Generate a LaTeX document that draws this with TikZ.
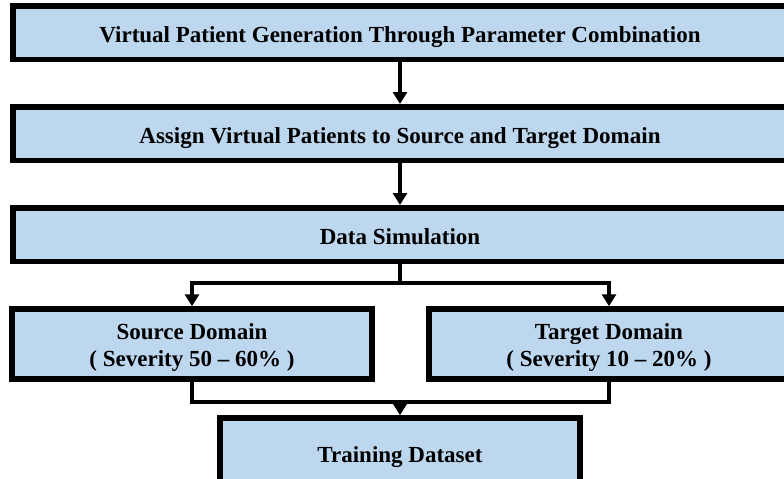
\documentclass[tikz,border=0pt]{standalone}
\usepackage{fontspec}
\setmainfont{Liberation Serif}
\usetikzlibrary{arrows.meta}
\definecolor{boxblue}{RGB}{189,215,238}
\begin{document}
\begin{tikzpicture}[x=0.5pt,y=-0.5pt,every node/.style={font=\fontsize{11.5}{13.5}\selectfont\bfseries,align=center},
  stepbox/.style={draw,fill=boxblue,line width=2.75pt,inner sep=0pt,text height=9.5pt,text depth=0pt},
  widebox/.style={stepbox,minimum width=387pt,minimum height=26.75pt},
  halfbox/.style={stepbox,minimum width=180pt,minimum height=35pt},
  domainbox/.style={halfbox,text height=22.5pt},
  conn/.style={line width=1.75pt},
  arr/.style={conn,-{Triangle[length=6pt,width=7pt]}}]
\clip (0,0) rectangle (784,478);
\node[widebox] (gen) at (400,32.5) {Virtual Patient Generation Through Parameter Combination};
\node[widebox] (assign) at (400,133.5) {Assign Virtual Patients to Source and Target Domain};
\node[widebox] (sim) at (400,234.5) {Data Simulation};
\node[domainbox] (src) at (192,344) {Source Domain\\( Severity 50 -- 60\% )}; \node[domainbox] (tgt) at (609,344) {Target Domain\\( Severity 10 -- 20\% )};
\node[halfbox] (train) at (400,453) {Training Dataset};
\coordinate (split) at (400,283); \coordinate (merge) at (400,402);
\draw[arr] (gen) -- (assign); \draw[arr] (assign) -- (sim);
\draw[conn] (sim.south) -- (split); \draw[arr] (split) -| (src.north); \draw[arr] (split) -| (tgt.north);
\draw[conn] (src.south) |- (merge); \draw[conn] (tgt.south) |- (merge); \draw[arr] (merge) -- (train.north);
\end{tikzpicture}
\end{document}
